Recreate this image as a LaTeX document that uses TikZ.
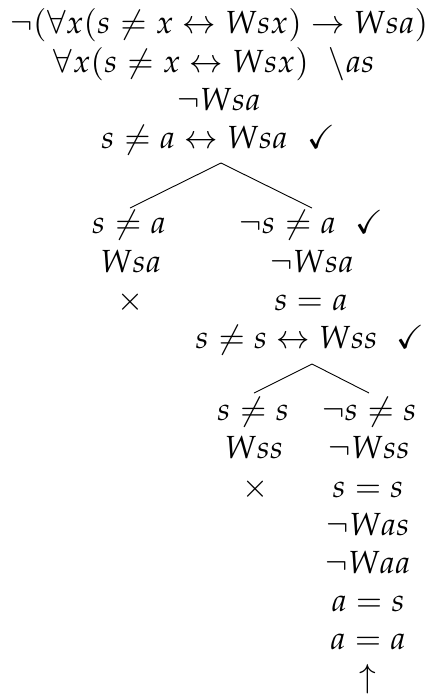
\documentclass[tikz,border=0pt]{standalone}
\usepackage{amssymb}
\usepackage{mathpazo}
\begin{document}
\begin{tikzpicture}[x=1pt,y=-1pt,
  f/.style={anchor=base,inner sep=0pt,font=\fontsize{32}{40}\selectfont},
  br/.style={line width=0.9pt}]
\useasboundingbox (0,0) rectangle (428,697);
\node[f] (n1) at (219,33) {$\neg(\forall x(s \neq x \leftrightarrow Wsx) \to Wsa)$};
\node[f] (n2) at (214,72) {$\forall x(s \neq x \leftrightarrow Wsx)\ \ \backslash as$};
\node[f] (n3) at (219,110) {$\neg Wsa$};
\node[f] (n4) at (218,148) {$s \neq a \leftrightarrow Wsa\ \ \checkmark$};
\node[f] (l1) at (129,233) {$s \neq a$};
\node[f] (l2) at (131,272) {$Wsa$};
\node[f] (l3) at (130,310) {$\times$};
\node[f] (r1) at (311,233) {$\neg s \neq a\ \ \checkmark$};
\node[f] (r2) at (312,272) {$\neg Wsa$};
\node[f] (r3) at (311,310) {$s = a$};
\node[f] (r4) at (310,348) {$s \neq s \leftrightarrow Wss\ \ \checkmark$};
\node[f] (ll1) at (253,420) {$s \neq s$};
\node[f] (ll2) at (254,458) {$Wss$};
\node[f] (ll3) at (255,497) {$\times$};
\node[f] (rr1) at (369,420) {$\neg s \neq s$};
\node[f] (rr2) at (369,458) {$\neg Wss$};
\node[f] (rr3) at (368,497) {$s = s$};
\node[f] (rr4) at (368,535) {$\neg Was$};
\node[f] (rr5) at (368,573) {$\neg Waa$};
\node[f] (rr6) at (368,611) {$a = s$};
\node[f] (rr7) at (368,649) {$a = a$};
\node[f] (rr8) at (368,687) {$\uparrow$};
\draw[br] ([xshift=3pt,yshift=-15pt]n4.base) -- ([xshift=1pt,yshift=25pt]l1.base);
\draw[br] ([xshift=3pt,yshift=-15pt]n4.base) -- ([xshift=1pt,yshift=25pt]r1.base);
\draw[br] ([xshift=2pt,yshift=-16pt]r4.base) -- ([xshift=1pt,yshift=27pt]ll1.base);
\draw[br] ([xshift=2pt,yshift=-16pt]r4.base) -- ([yshift=27pt]rr1.base);
\end{tikzpicture}
\end{document}
